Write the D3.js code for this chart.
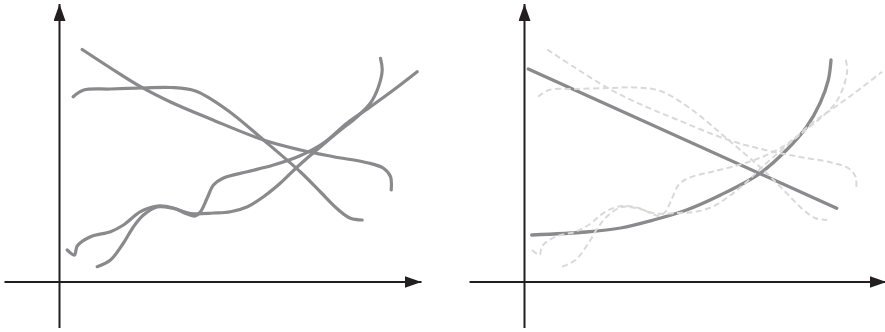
<!DOCTYPE html>
<meta charset="utf-8">
<script src="https://d3js.org/d3.v7.min.js"></script>
<style>
  body { margin: 0; background: #fff; }
</style>
<div id="chart"></div>
<script>
  // axis extents, in data units (origin = where the two axes cross)
  var xExtent = [-55, 362];
  var yExtent = [-46, 278];

  // the four free curves of the left panel (also ghosted on the right)
  var curveA = [[22.7,232.5],[51,214],[81,195.3],[111,180],[151,163],[204,142],[241,132],[274,125.3],[307.7,119.3],[324,113.7],[331,105.3],[331.7,92]];
  var curveB = [[13.7,185.3],[24.3,192],[51,193],[84,194],[111,194.5],[136,191],[167.7,172],[204,142],[241,110],[261,90],[278,73],[291,63.7],[302.7,62]];
  var curveC = [[7.7,32],[15,27],[17.7,36],[31,45.3],[51,50.3],[64,57],[81,70.3],[97.7,76],[114,74],[127.7,68],[135.5,66],[141,70.3],[147.7,84],[154,97],[164,104],[187.7,110.3],[214,117],[240,126],[264,139],[287.7,159],[311,175.3],[334,192],[357.7,210.3]];
  var curveD = [[37.7,15.3],[51,22],[64,39],[74,55.3],[84,67],[97.7,75],[114,73.5],[131,68.5],[154,69],[171,70.3],[188,75.3],[204,85.3],[221,99],[238,115.3],[261,135.3],[281,152],[297.7,165.3],[311,179],[319,195.3],[322.7,212],[321,223.7]];

  // the two fitted shapes of the right panel
  var lineFit = [[3.8,213],[312.2,73.7]];
  var expFit = [[7.2,47],[62,50],[96,54],[129,62],[162,72],[196,87],[235.5,108.7],[262,132],[282,155],[295.5,178.7],[303.8,202],[306.5,222]];

  var width = 885, height = 332;
  var ink = "#231f20", grey = "#8a8a8c", ghost = "#d9d9d9";

  var svg = d3.select("#chart")
    .append("svg")
    .attr("width", width)
    .attr("height", height);

  svg.append("defs").append("marker")
    .attr("id", "arrow")
    .attr("markerUnits", "userSpaceOnUse")
    .attr("markerWidth", 18)
    .attr("markerHeight", 12)
    .attr("refX", 17)
    .attr("refY", 6)
    .attr("orient", "auto")
    .append("path")
    .attr("d", "M0,0L17,6L0,12Z")
    .attr("fill", ink);

  function panel(x0, xRight) {
    var x = d3.scaleLinear().domain(xExtent).range([x0 + xExtent[0], x0 + xRight]);
    var y = d3.scaleLinear().domain(yExtent).range([282 - yExtent[0], 282 - yExtent[1]]);
    return { x: x, y: y };
  }

  function drawAxes(g, s) {
    g.append("line")
      .attr("x1", s.x(xExtent[0])).attr("x2", s.x(xExtent[1]))
      .attr("y1", s.y(0)).attr("y2", s.y(0))
      .attr("stroke", ink).attr("stroke-width", 2)
      .attr("marker-end", "url(#arrow)");
    g.append("line")
      .attr("x1", s.x(0)).attr("x2", s.x(0))
      .attr("y1", s.y(yExtent[0])).attr("y2", s.y(yExtent[1]))
      .attr("stroke", ink).attr("stroke-width", 2)
      .attr("marker-end", "url(#arrow)");
  }

  function lineGen(s) {
    return d3.line()
      .x(function(d) { return s.x(d[0]); })
      .y(function(d) { return s.y(d[1]); })
      .curve(d3.curveCatmullRom.alpha(0.5));
  }

  // left panel
  var left = panel(59.5, 362);
  var gl = svg.append("g");
  drawAxes(gl, left);
  [curveA, curveB, curveC, curveD].forEach(function(c) {
    gl.append("path")
      .datum(c)
      .attr("fill", "none")
      .attr("stroke", grey)
      .attr("stroke-width", 3.2)
      .attr("stroke-linecap", "round")
      .attr("d", lineGen(left));
  });

  // right panel
  var right = panel(524.5, 362);
  var gr = svg.append("g");
  drawAxes(gr, right);
  [lineFit, expFit].forEach(function(c) {
    gr.append("path")
      .datum(c)
      .attr("fill", "none")
      .attr("stroke", grey)
      .attr("stroke-width", 3.3)
      .attr("stroke-linecap", "round")
      .attr("d", lineGen(right));
  });
  [curveA, curveB, curveC, curveD].forEach(function(c) {
    gr.append("path")
      .datum(c)
      .attr("fill", "none")
      .attr("stroke", ghost)
      .attr("stroke-width", 2)
      .attr("stroke-dasharray", "6,3.5")
      .attr("d", lineGen(right));
  });
</script>
